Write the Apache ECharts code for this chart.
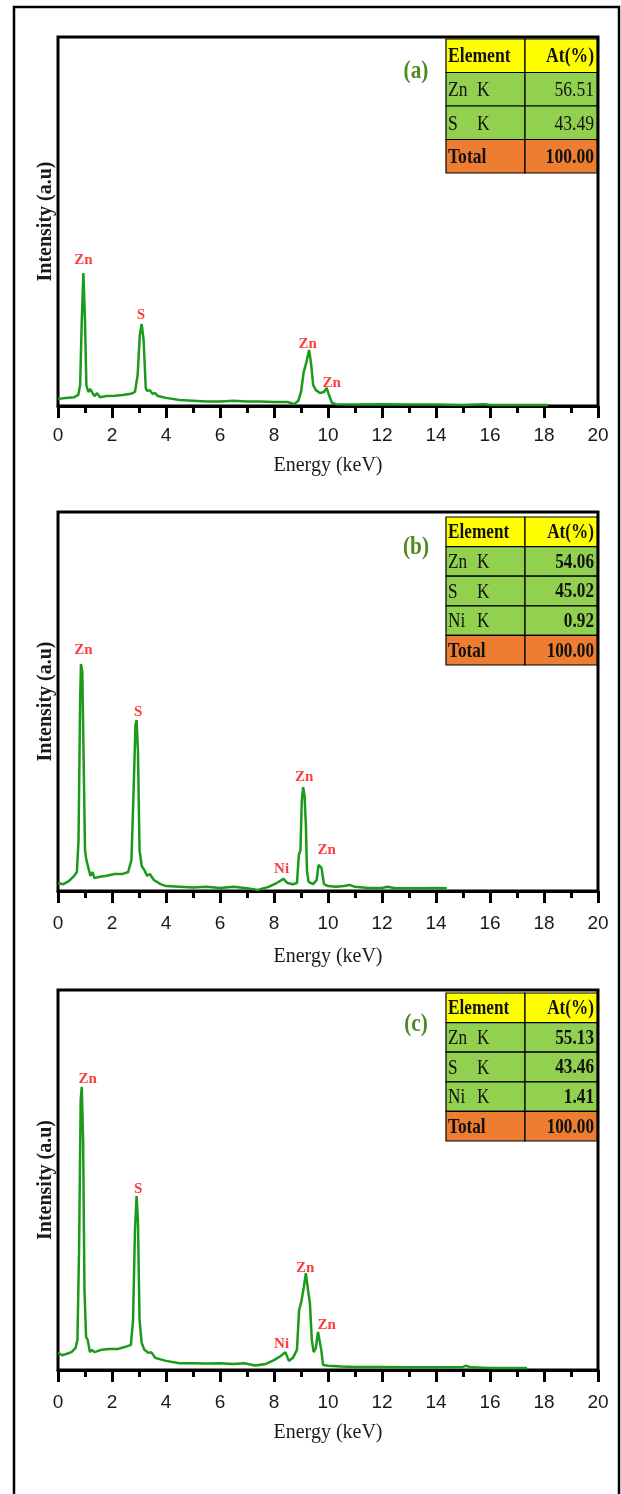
<!DOCTYPE html>
<html><head><meta charset="utf-8">
<script src="https://cdn.jsdelivr.net/npm/echarts@6/dist/echarts.min.js"></script>
<style>html,body{margin:0;padding:0;background:#fff}#c{width:621px;height:1494px}</style>
</head><body><div id="c"></div>
<script>
// ---- data (energy keV, relative intensity 0-100) ----
const spectrumA = [[0,1.9],[0.3,2.2],[0.6,2.4],[0.75,3.0],[0.82,5.7],[0.88,23],[0.94,36],[1.0,23],[1.05,5.7],[1.12,3.8],[1.2,4.6],[1.28,3.5],[1.35,2.7],[1.45,3.5],[1.55,2.4],[1.8,2.7],[2.1,2.8],[2.4,3.0],[2.7,3.3],[2.85,3.8],[2.95,8.4],[3.03,19.2],[3.1,22.2],[3.17,17.9],[3.25,4.9],[3.3,4.1],[3.4,4.3],[3.5,3.3],[3.6,3.5],[3.7,2.7],[4.0,2.2],[4.5,1.6],[5.0,1.4],[5.5,1.2],[6.0,1.2],[6.5,1.4],[7.0,1.2],[7.5,1.2],[8.0,1.1],[8.5,1.1],[8.75,0.5],[8.9,1.4],[9.0,3.8],[9.1,9.2],[9.2,11.9],[9.3,15.2],[9.38,11.1],[9.45,5.7],[9.55,4.3],[9.7,3.5],[9.85,3.8],[9.95,4.9],[10.05,2.7],[10.15,0.8],[10.3,0.5],[11,0.4],[12,0.5],[13,0.4],[14,0.4],[15,0.3],[15.8,0.5],[16,0.3],[17,0.3],[18.15,0.3]];
const spectrumB = [[0,2.1],[0.2,1.8],[0.4,2.6],[0.6,4.0],[0.7,5.0],[0.76,13.5],[0.82,50.4],[0.85,59.9],[0.9,57.8],[0.95,34.6],[1.0,10.8],[1.05,8.2],[1.12,7.7],[1.2,4.0],[1.28,5.0],[1.35,3.4],[1.5,3.7],[1.8,4.0],[2.1,4.5],[2.4,4.5],[2.6,5.0],[2.72,8.2],[2.8,26.6],[2.87,43.8],[2.91,45.1],[2.96,37.2],[3.02,10.8],[3.1,6.6],[3.2,5.5],[3.3,4.0],[3.4,4.5],[3.55,2.9],[3.8,1.8],[4.0,1.3],[4.5,1.1],[5.0,0.9],[5.5,1.1],[6.0,0.8],[6.5,1.1],[7.0,0.7],[7.4,0.3],[7.8,1.1],[8.1,2.1],[8.35,3.2],[8.5,2.1],[8.7,1.8],[8.85,2.1],[8.92,9.5],[8.98,10.8],[9.03,24.0],[9.08,27.4],[9.13,25.3],[9.18,17.4],[9.22,5.5],[9.28,2.4],[9.45,1.8],[9.58,2.9],[9.65,6.9],[9.7,7.1],[9.76,6.1],[9.85,1.8],[10.0,1.3],[10.3,1.1],[10.6,1.3],[10.8,1.6],[11.0,1.1],[11.5,0.8],[12.0,0.8],[12.2,1.1],[12.5,0.7],[13.0,0.7],[13.5,0.7],[14.0,0.8],[14.4,0.7]];
const spectrumC = [[0,4.5],[0.15,3.9],[0.3,4.2],[0.5,4.7],[0.65,5.8],[0.72,7.9],[0.78,31.6],[0.84,71.1],[0.88,74.5],[0.93,60.5],[0.98,21.1],[1.04,8.7],[1.1,7.9],[1.18,4.7],[1.25,5.3],[1.35,4.7],[1.6,5.3],[1.9,5.5],[2.2,5.5],[2.5,6.1],[2.7,6.6],[2.78,13.2],[2.85,36.8],[2.91,45.8],[2.96,39.5],[3.02,13.2],[3.1,7.1],[3.2,5.3],[3.35,4.5],[3.45,4.7],[3.6,3.2],[4.0,2.4],[4.5,1.8],[5.0,1.8],[5.5,1.7],[6.0,1.8],[6.5,1.6],[6.9,1.8],[7.3,1.2],[7.7,1.6],[8.0,2.6],[8.25,3.7],[8.42,4.7],[8.55,2.4],[8.7,3.2],[8.85,5.3],[8.93,15.8],[9.0,17.6],[9.1,21.6],[9.18,25.5],[9.26,21.1],[9.33,17.6],[9.4,7.9],[9.47,4.7],[9.55,5.8],[9.63,10.0],[9.68,10.3],[9.75,5.3],[9.82,1.3],[10.0,1.1],[10.5,0.9],[11,0.8],[12,0.8],[13,0.7],[14,0.7],[15,0.8],[15.1,1.1],[15.3,0.7],[16,0.5],[17.37,0.5]];
// peak labels: [text, energy, intensity of label centre]
const peaksA = [['Zn',0.94,39.6],['S',3.07,24.7],['Zn',9.25,16.8],['Zn',10.14,6.3]];
const peaksB = [['Zn',0.94,63.6],['S',2.97,47.2],['Ni',8.28,5.7],['Zn',9.12,30.0],['Zn',9.95,10.8]];
const peaksC = [['Zn',1.10,76.6],['S',2.97,47.7],['Ni',8.28,6.8],['Zn',9.15,26.8],['Zn',9.95,11.8]];
const panelLabels = ['(a)','(b)','(c)'];
const tableHeader = ['Element','At(%)'];
const tableA = [['Zn K','56.51'],['S K','43.49'],['Total','100.00']];
const tableB = [['Zn K','54.06'],['S K','45.02'],['Ni K','0.92'],['Total','100.00']];
const tableC = [['Zn K','55.13'],['S K','43.46'],['Ni K','1.41'],['Total','100.00']];
const xAxisName = 'Energy (keV)';
const yAxisName = 'Intensity (a.u)';

// ---- layout ----
const panels = [
  {top:37, height:369, tableTop:39, rowH:33.5, fs:22, sx:0.8, boldVal:false, labY:72, margin:20, nameGap:50, spec:spectrumA, peaks:peaksA, table:tableA},
  {top:512, height:379, tableTop:517, rowH:29.6, fs:21, sx:0.82, boldVal:true, labY:548, margin:23, nameGap:56, spec:spectrumB, peaks:peaksB, table:tableB},
  {top:990, height:380, tableTop:993, rowH:29.6, fs:21, sx:0.82, boldVal:true, labY:1025, margin:23, nameGap:53, spec:spectrumC, peaks:peaksC, table:tableC}
];
const GL = 58, GW = 540;
const tL = 446, tM = 525, tR = 597;
const serif = "'Liberation Serif','Times New Roman',serif";
const sans = "'Liberation Sans',Arial,sans-serif";

const grid=[], xAxis=[], yAxis=[], series=[], graphic=[];
graphic.push({type:'rect', z:0, shape:{x:14,y:7,width:605,height:1520}, style:{fill:'none',stroke:'#000',lineWidth:2.5}});

function txt(x,y,text,align,font,fill,sx){
  return {type:'text', x:x, y:y, scaleX:sx, z:20,
    style:{text:text, x:0, y:0, align:align, verticalAlign:'middle', textAlign:align, textVerticalAlign:'middle', font:font, fill:fill}};
}

panels.forEach((p,i)=>{
  grid.push({left:GL, top:p.top, width:GW, height:p.height, show:true, borderColor:'#000', borderWidth:3, backgroundColor:'transparent', containLabel:false});
  xAxis.push({type:'value', gridIndex:i, min:0, max:20, interval:2,
    name:xAxisName, nameLocation:'middle', nameGap:p.nameGap,
    nameTextStyle:{fontFamily:serif, fontSize:20, color:'#1a1a1a'},
    axisLine:{show:true, onZero:false, lineStyle:{color:'#000', width:3}},
    axisTick:{show:true, inside:false, length:12, lineStyle:{color:'#000', width:3}},
    minorTick:{show:true, splitNumber:2, length:7, lineStyle:{color:'#000', width:3}},
    axisLabel:{show:true, margin:p.margin, fontFamily:sans, fontSize:19, color:'#1a1a1a'},
    splitLine:{show:false}, minorSplitLine:{show:false}});
  yAxis.push({type:'value', gridIndex:i, min:0, max:100,
    name:yAxisName, nameLocation:'middle', nameGap:2, nameRotate:90,
    nameTextStyle:{fontFamily:serif, fontSize:20, fontWeight:'bold', color:'#1a1a1a'},
    axisLine:{show:false}, axisTick:{show:false}, axisLabel:{show:false}, splitLine:{show:false}});
  series.push({type:'line', xAxisIndex:i, yAxisIndex:i, data:p.spec, showSymbol:false, symbol:'none',
    lineStyle:{color:'#1c9a1c', width:2.5}, silent:true, animation:false, z:5});
  series.push({type:'scatter', xAxisIndex:i, yAxisIndex:i, symbolSize:1, itemStyle:{color:'rgba(0,0,0,0)'},
    data:p.peaks.map(d=>({value:[d[1],d[2]], name:d[0]})),
    label:{show:true, position:'inside', formatter:'{b}', fontFamily:serif, fontWeight:'bold', fontSize:15, color:'#ff0a0a'},
    silent:true, animation:false, z:6});
  // panel label
  graphic.push(txt(416, p.labY, panelLabels[i], 'center', 'bold 25px '+serif, '#4e8a22', 0.85));
  // table
  const rows = [tableHeader].concat(p.table);
  rows.forEach((r,k)=>{
    const y0 = p.tableTop + k*p.rowH;
    let fill = '#92d050';
    if (k===0) fill = '#ffff00'; else if (k===rows.length-1) fill = '#ed7d31';
    graphic.push({type:'rect', z:10, shape:{x:tL,y:y0,width:tM-tL,height:p.rowH}, style:{fill:fill, stroke:'#000', lineWidth:1.2}});
    graphic.push({type:'rect', z:10, shape:{x:tM,y:y0,width:tR-tM,height:p.rowH}, style:{fill:fill, stroke:'#000', lineWidth:1.2}});
    const cy = y0 + p.rowH/2 + 1;
    const bold = (k===0 || k===rows.length-1);
    const fnt = (bold?'bold ':'') + p.fs + 'px ' + serif;
    const parts = r[0].split(' ');
    if (!bold && parts.length===2) {
      graphic.push(txt(448, cy, parts[0], 'left', fnt, '#111', p.sx));
      graphic.push(txt(477, cy, parts[1], 'left', fnt, '#111', p.sx));
    } else {
      graphic.push(txt(448, cy, r[0], 'left', fnt, '#111', p.sx));
    }
    const vf = ((bold || p.boldVal)?'bold ':'') + p.fs + 'px ' + serif;
    graphic.push(txt(594, cy, r[1], 'right', vf, '#111', p.sx));
  });
});

const chart = echarts.init(document.getElementById('c'), null, {renderer:'canvas', width:621, height:1494});
chart.setOption({animation:false, backgroundColor:'#fff', grid, xAxis, yAxis, series, graphic});
</script></body></html>
